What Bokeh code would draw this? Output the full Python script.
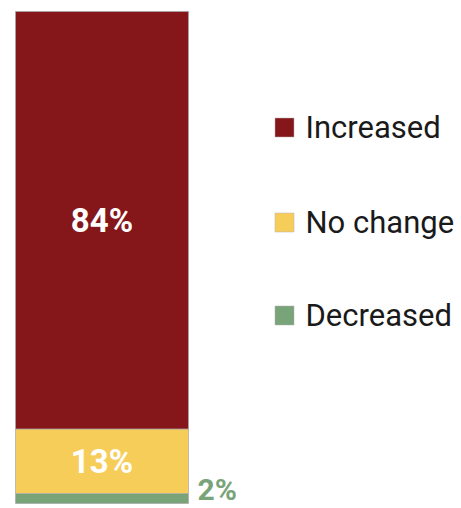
from bokeh.plotting import figure
from bokeh.models import Range1d, ColumnDataSource
from bokeh.core.properties import value
from bokeh.embed import file_html
from bokeh.resources import INLINE

categories = ["Increased", "No change", "Decreased"]
values = [84, 13, 2]
labels = ["84%", "13%", "2%"]
colors = ["#85171a", "#f7cd5a", "#79a379"]

W, H = 461, 508
total = sum(values)
bar_top_px, bar_bot_px = 11, 503
px_per = (bar_bot_px - bar_top_px) / total

def ypx(py):
    return (bar_bot_px - py) / px_per

p = figure(width=W, height=H, output_backend="svg", toolbar_location=None,
           x_range=Range1d(0, W), y_range=Range1d(ypx(H), ypx(0)), min_border=0)
p.axis.visible = False
p.grid.visible = False
p.outline_line_color = None
p.background_fill_color = "white"
p.border_fill_color = "white"

# stacked segments from bottom: Decreased, No change, Increased
order = [2, 1, 0]
bottoms, tops = [], []
acc = 0
for i in order:
    bottoms.append(acc)
    acc += values[i]
    tops.append(acc)
src = ColumnDataSource(dict(
    bottom=bottoms, top=tops,
    color=[colors[i] for i in order],
    mid=[(b + t) / 2 for b, t in zip(bottoms, tops)],
    label=[labels[i] for i in order],
))
bar_x, bar_w = 101.5, 173
p.vbar(x=bar_x, width=bar_w, bottom="bottom", top="top", fill_color="color",
       source=src, line_color="#a8a8a8", line_width=1, line_alpha=0.7)

# inside labels (Increased, No change)
inside = ColumnDataSource(dict(
    x=[bar_x, bar_x],
    y=[src.data["mid"][2], src.data["mid"][1]],
    t=[labels[0], labels[1]],
))
p.text(x="x", y="y", text="t", source=inside, text_color="white",
       text_font=value("Roboto"), text_font_style="bold", text_font_size="33px",
       text_align="center", text_baseline="middle")

# outside label for Decreased (kept just inside the canvas)
p.text(x=[bar_x + bar_w / 2 + 9], y=[ypx(489)], text=[labels[2]],
       text_color=colors[2], text_font=value("Roboto"), text_font_style="bold",
       text_font_size="30px", text_align="left", text_baseline="middle")

# legend (manual)
leg_py = [127, 222, 315]
leg_y = [ypx(py) for py in leg_py]
p.scatter(x=[284] * 3, y=leg_y, marker="square", size=19, fill_color=colors,
          line_color="#b0b0b0", line_width=0.5)
p.text(x=[305] * 3, y=leg_y, text=categories, text_color="#1a1a1a",
       text_font=value("Roboto"), text_font_size="31px",
       text_align="left", text_baseline="middle")

open("out.html", "w").write(file_html(p, INLINE))
